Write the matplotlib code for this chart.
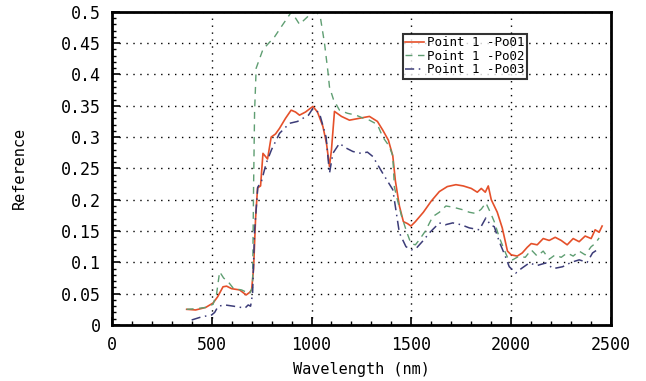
import matplotlib
matplotlib.use("Agg")
import matplotlib.pyplot as plt
from matplotlib.ticker import MultipleLocator

# Point 1 -Po01 (red, solid)
wl1 = [375, 420, 470, 507, 530, 557, 575, 600, 640, 673, 690, 700, 710, 720, 730, 745, 757, 780, 798, 820, 840, 870, 898, 920, 940, 970, 1007, 1030, 1057, 1075, 1090, 1100, 1115, 1150, 1190, 1240, 1290, 1330, 1357, 1385, 1407, 1420, 1440, 1460, 1480, 1498, 1520, 1560, 1600, 1640, 1680, 1723, 1760, 1800, 1830, 1850, 1870, 1885, 1900, 1930, 1955, 1981, 2000, 2030, 2055, 2080, 2100, 2130, 2160, 2190, 2220, 2250, 2280, 2310, 2340, 2370, 2400, 2420, 2440, 2455]
r1 = [0.025, 0.024, 0.028, 0.035, 0.045, 0.061, 0.062, 0.058, 0.056, 0.048, 0.052, 0.056, 0.09, 0.17, 0.219, 0.222, 0.274, 0.265, 0.3, 0.305, 0.314, 0.33, 0.343, 0.34, 0.335, 0.34, 0.349, 0.34, 0.317, 0.29, 0.253, 0.28, 0.341, 0.333, 0.327, 0.33, 0.333, 0.325, 0.311, 0.295, 0.27, 0.23, 0.19, 0.165, 0.162, 0.158, 0.165, 0.18, 0.198, 0.213, 0.221, 0.224, 0.222, 0.218, 0.212, 0.218, 0.212, 0.222, 0.2, 0.18, 0.155, 0.118, 0.112, 0.11, 0.115, 0.124, 0.13, 0.128, 0.138, 0.135, 0.14, 0.135, 0.128, 0.138, 0.133, 0.142, 0.138, 0.152, 0.148, 0.158]

# Point 1 -Po02 (green, dashed)
wl2 = [375, 420, 470, 507, 525, 540, 560, 583, 610, 650, 690, 705, 710, 715, 723, 757, 815, 857, 900, 940, 990, 1025, 1045, 1065, 1082, 1090, 1110, 1140, 1180, 1223, 1260, 1290, 1330, 1357, 1390, 1407, 1415, 1430, 1450, 1475, 1498, 1520, 1540, 1570, 1607, 1640, 1673, 1710, 1757, 1790, 1823, 1850, 1873, 1895, 1915, 1940, 1965, 1985, 2007, 2040, 2070, 2100, 2130, 2160, 2190, 2220, 2250, 2280, 2310, 2340, 2370, 2400, 2420, 2440]
r2 = [0.025, 0.026, 0.028, 0.033, 0.05, 0.085, 0.075, 0.069, 0.058, 0.056, 0.05, 0.06, 0.22, 0.34, 0.41, 0.44, 0.46, 0.48, 0.5, 0.48, 0.495, 0.5, 0.49, 0.45, 0.405, 0.38, 0.36, 0.343, 0.338, 0.335, 0.33, 0.327, 0.32, 0.3, 0.285, 0.27, 0.22, 0.2, 0.175, 0.15, 0.13, 0.128, 0.136, 0.15, 0.173, 0.18, 0.19, 0.188, 0.184, 0.18, 0.178, 0.185, 0.195, 0.18, 0.165, 0.14, 0.12, 0.105, 0.104, 0.11, 0.108, 0.12, 0.11, 0.118, 0.105, 0.112, 0.108, 0.115, 0.11, 0.118, 0.112, 0.125, 0.13, 0.139]

# Point 1 -Po03 (blue, dash-dot)
wl3 = [400, 450, 500, 515, 533, 567, 610, 667, 683, 695, 705, 715, 731, 750, 773, 800, 840, 890, 930, 957, 985, 1007, 1040, 1073, 1090, 1107, 1140, 1170, 1207, 1248, 1280, 1307, 1357, 1407, 1440, 1473, 1500, 1523, 1560, 1590, 1640, 1670, 1707, 1750, 1790, 1840, 1873, 1895, 1915, 1940, 1970, 1990, 2023, 2050, 2090, 2130, 2173, 2210, 2257, 2300, 2340, 2380, 2407, 2430]
r3 = [0.008, 0.013, 0.016, 0.02, 0.03, 0.032, 0.03, 0.027, 0.032, 0.03, 0.05, 0.15, 0.22, 0.23, 0.258, 0.28, 0.306, 0.322, 0.325, 0.33, 0.335, 0.346, 0.338, 0.3, 0.242, 0.274, 0.29, 0.283, 0.277, 0.274, 0.276, 0.269, 0.242, 0.216, 0.147, 0.125, 0.12, 0.122, 0.135, 0.147, 0.163, 0.16, 0.163, 0.16, 0.155, 0.152, 0.171, 0.16, 0.157, 0.133, 0.11, 0.093, 0.083, 0.09, 0.099, 0.095, 0.099, 0.09, 0.093, 0.1, 0.104, 0.1, 0.115, 0.12]

labels = ["Point 1 -Po01", "Point 1 -Po02", "Point 1 -Po03"]
xticks = [0, 500, 1000, 1500, 2000, 2500]
yticks = [0, 0.05, 0.1, 0.15, 0.2, 0.25, 0.3, 0.35, 0.4, 0.45, 0.5]
ytick_labels = ["0", "0.05", "0.1", "0.15", "0.2", "0.25", "0.3", "0.35", "0.4", "0.45", "0.5"]

plt.rcParams['font.family'] = ['DejaVu Sans Mono']

fig = plt.figure(figsize=(6.46, 3.81), dpi=100)
ax = fig.add_axes([0.173, 0.147, 0.773, 0.822])

ax.plot(wl1, r1, color='#e5502a', lw=1.2, label=labels[0])
ax.plot(wl2, r2, color='#5f9e72', lw=1.0, ls=(0, (5, 4)), label=labels[1])
ax.plot(wl3, r3, color='#3c3c78', lw=1.1, ls=(0, (6, 3, 1, 3)), label=labels[2])

ax.set_xlim(0, 2500)
ax.set_ylim(0, 0.5)
ax.set_xticks(xticks)
ax.set_xticklabels([str(t) for t in xticks])
ax.set_yticks(yticks)
ax.set_yticklabels(ytick_labels)
ax.xaxis.set_minor_locator(MultipleLocator(100))
ax.yaxis.set_minor_locator(MultipleLocator(0.01))
ax.tick_params(which='major', direction='in', length=6, width=1.2, labelsize=12, pad=8,
               top=False, right=False)
ax.tick_params(which='minor', direction='in', length=3, width=1.0, top=False, right=False)
ax.grid(True, which='major', color='black', ls=(0, (1, 4)), lw=1.0)
for s in ax.spines.values():
    s.set_linewidth(2)

ax.set_xlabel("Wavelength (nm)", fontsize=11, labelpad=6)
ax.set_ylabel("Reference", fontsize=11, labelpad=24)

leg = ax.legend(loc='upper left', bbox_to_anchor=(0.583, 0.93), fontsize=9,
                frameon=True, fancybox=False, borderpad=0.2, labelspacing=0.05,
                handlelength=1.5, handletextpad=0.2, borderaxespad=0)
leg.get_frame().set_edgecolor('black')
leg.get_frame().set_linewidth(1.5)

fig.savefig("out.png", dpi=100)
